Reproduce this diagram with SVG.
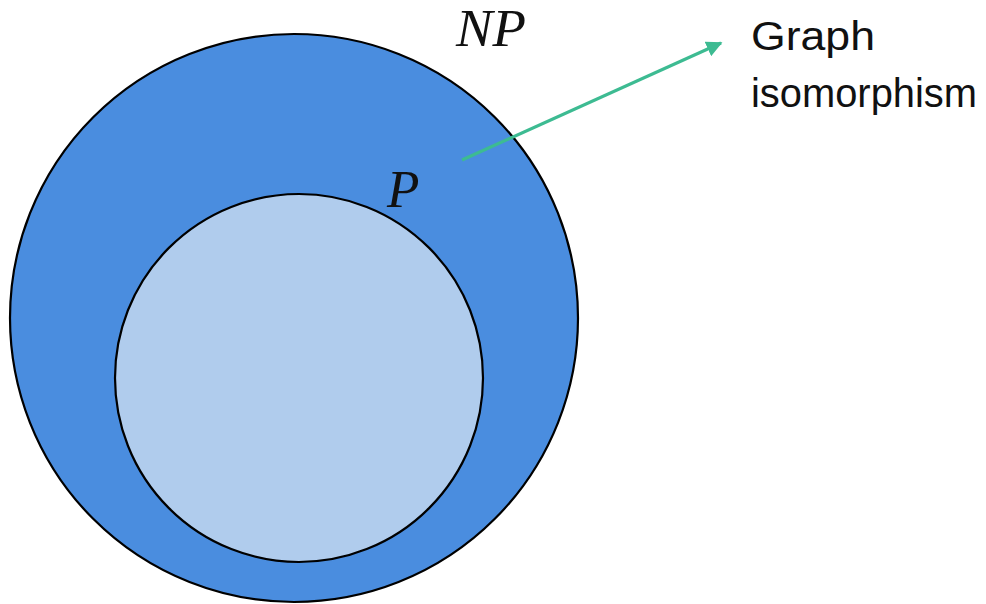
<svg xmlns="http://www.w3.org/2000/svg" width="986" height="604" viewBox="0 0 986 604">
  <style>
    .set { stroke: #000; stroke-width: 2.2; }
    .math { font-family: "Liberation Serif", "DejaVu Serif", serif; font-style: italic; font-size: 53px; fill: #111; }
    .label { font-family: "Liberation Sans", Arial, sans-serif; font-size: 40px; fill: #111; }
    .link { stroke: #3dbb92; stroke-width: 3.2; fill: none; }
  </style>
  <defs>
    <marker id="head" viewBox="0 0 10 10" refX="9" refY="5" markerWidth="5" markerHeight="5" orient="auto" markerUnits="strokeWidth">
      <path d="M0,0 L10,5 L0,10 z" fill="#3dbb92"/>
    </marker>
  </defs>

  <g id="np">
    <circle class="set" cx="294" cy="318" r="284" fill="#4a8ddf"/>
    <text class="math" x="456" y="46" textLength="70" lengthAdjust="spacingAndGlyphs">NP</text>
  </g>

  <g id="p">
    <circle class="set" cx="299" cy="378" r="184" fill="#b0cced"/>
    <text class="math" x="387" y="207">P</text>
  </g>

  <g id="gi">
    <text class="label" x="751" y="50" textLength="124" lengthAdjust="spacingAndGlyphs">Graph</text>
    <text class="label" x="751" y="107" textLength="226" lengthAdjust="spacingAndGlyphs">isomorphism</text>
  </g>

  <g id="connectors">
    <line class="link" x1="462" y1="160" x2="721" y2="43" marker-end="url(#head)"/>
  </g>
</svg>
